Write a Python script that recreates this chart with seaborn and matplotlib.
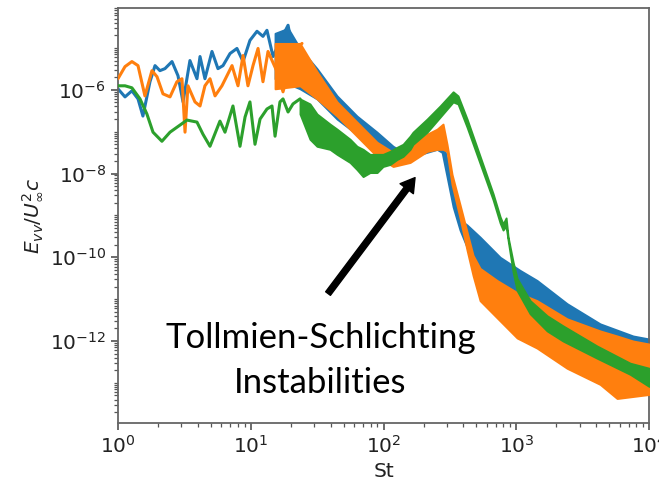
import numpy as np
import pandas as pd
import matplotlib
matplotlib.use("Agg")
import matplotlib.pyplot as plt
import seaborn as sns
from matplotlib.ticker import LogLocator, NullFormatter

# ---------------------------------------------------------------------------
# Spectra of the wall-normal velocity, stored as log10 values.
# "line" arrays: the low-frequency part, drawn as a single trace.
# "band" arrays: the broadband part, given as lower / upper envelopes.
# ---------------------------------------------------------------------------
runs = ["run A", "run B", "run C"]
colors = {"run A": "#1f77b4", "run B": "#ff7f0e", "run C": "#2ca02c"}

# run A (blue)
a_line_logst = [0.0, 0.053, 0.105, 0.151, 0.188, 0.241, 0.279, 0.316, 0.354, 0.407,
                0.452, 0.490, 0.542, 0.595, 0.618, 0.655, 0.708, 0.753, 0.791, 0.844,
                0.896, 0.942, 0.994, 1.047, 1.092, 1.122, 1.168, 1.220, 1.281, 1.318, 1.371]
a_line_loge = [-5.976, -6.169, -6.024, -6.217, -6.627, -5.807, -5.422, -5.542, -5.494, -5.325,
               -5.663, -6.289, -5.301, -5.735, -5.205, -5.735, -5.084, -5.494, -5.422, -5.133,
               -5.012, -5.325, -4.819, -4.602, -4.723, -4.578, -5.205, -4.843, -4.458, -5.084, -5.012]
a_band_logst = [1.183, 1.281, 1.371, 1.499, 1.650, 1.800, 1.951, 2.072, 2.177,
                2.275, 2.403, 2.441, 2.478, 2.524, 2.576, 2.629, 2.727, 2.878, 3.028,
                3.156, 3.382, 3.631, 3.879, 4.0]
a_band_hi = [-4.651, -4.530, -5.012, -5.494, -6.145, -6.627, -7.012, -7.349, -7.542,
             -7.422, -7.301, -7.181, -7.663, -8.506, -9.108, -9.229, -9.518, -10.000, -10.313,
             -10.554, -11.108, -11.590, -11.880, -11.952]
a_band_lo = [-5.735, -5.855, -5.976, -6.217, -6.699, -7.060, -7.422, -7.590, -7.663,
             -7.542, -7.422, -7.494, -8.072, -8.795, -9.349, -9.759, -10.386, -10.675, -10.916,
             -11.157, -11.639, -11.952, -12.120, -12.169]

# run B (orange)
b_line_logst = [0.0, 0.053, 0.105, 0.151, 0.203, 0.256, 0.294, 0.339, 0.392, 0.444,
                0.482, 0.505, 0.527, 0.580, 0.618, 0.655, 0.693, 0.731, 0.783, 0.821,
                0.859, 0.904, 0.942, 0.979, 1.017, 1.055, 1.092, 1.130, 1.198, 1.243,
                1.296, 1.348, 1.386]
b_line_loge = [-5.735, -5.446, -5.325, -5.422, -6.145, -5.542, -5.687, -6.096, -6.169, -5.807,
               -5.735, -7.012, -5.904, -6.289, -6.386, -5.904, -5.735, -6.145, -5.904, -5.663,
               -5.422, -5.904, -5.181, -5.904, -5.422, -5.012, -5.807, -5.084, -5.566, -6.048,
               -5.422, -5.012, -4.892]
b_band_logst = [1.183, 1.371, 1.499, 1.650, 1.800, 1.951, 2.072, 2.200, 2.328,
                2.403, 2.448, 2.478, 2.516, 2.576, 2.629, 2.674, 2.727, 2.855, 3.006,
                3.156, 3.382, 3.631, 3.759, 3.879, 4.0]
b_band_hi = [-4.892, -4.892, -5.566, -6.289, -6.771, -7.253, -7.494, -7.373, -7.060,
             -6.940, -6.819, -7.301, -8.024, -8.747, -9.398, -9.952, -10.265, -10.554, -10.843,
             -11.036, -11.470, -11.759, -11.880, -12.000, -12.072]
b_band_lo = [-5.976, -5.904, -6.217, -6.627, -7.108, -7.590, -7.831, -7.735, -7.470,
             -7.422, -7.422, -7.470, -8.265, -9.060, -9.831, -10.434, -11.036, -11.446, -11.928,
             -12.169, -12.651, -13.036, -13.373, -13.325, -13.277]

# run C (green)
c_line_logst = [0.0, 0.053, 0.105, 0.166, 0.218, 0.264, 0.331, 0.392, 0.520, 0.595,
                0.640, 0.693, 0.768, 0.806, 0.866, 0.919, 0.957, 0.994, 1.032, 1.070,
                1.122, 1.160, 1.183, 1.220, 1.243, 1.281, 1.318, 1.371]
c_line_loge = [-5.904, -5.904, -5.952, -6.217, -6.578, -7.012, -7.229, -7.012, -6.723, -6.771,
               -7.060, -7.349, -6.747, -7.012, -6.386, -7.349, -6.651, -6.289, -7.301, -6.699,
               -6.458, -6.386, -7.108, -6.289, -6.217, -6.530, -6.337, -6.217]
c_band_logst = [1.371, 1.446, 1.499, 1.597, 1.650, 1.748, 1.800, 1.846, 1.898, 1.951,
                1.996, 2.049, 2.102, 2.147, 2.200, 2.222, 2.328, 2.426, 2.524, 2.561,
                2.629, 2.727, 2.825, 2.878, 2.900, 2.923, 2.938, 2.976, 3.006, 3.104,
                3.232, 3.352, 3.608, 3.857, 4.0]
c_band_hi = [-6.217, -6.337, -6.578, -6.819, -6.940, -7.181, -7.349, -7.422, -7.542, -7.542,
             -7.542, -7.470, -7.373, -7.301, -7.108, -7.012, -6.699, -6.386, -6.048, -6.145,
             -6.699, -7.590, -8.482, -9.036, -9.205, -9.060, -9.518, -10.120, -10.506, -11.036,
             -11.398, -11.639, -12.120, -12.530, -12.651]
c_band_lo = [-6.578, -7.181, -7.349, -7.422, -7.542, -7.735, -7.904, -8.072, -7.976, -7.976,
             -7.831, -7.783, -7.663, -7.590, -7.422, -7.301, -7.012, -6.651, -6.289, -6.337,
             -6.892, -7.759, -8.627, -9.181, -9.349, -9.253, -9.590, -10.361, -10.795, -11.349,
             -11.759, -12.000, -12.410, -12.795, -13.084]

line_data = {"run A": (a_line_logst, a_line_loge),
             "run B": (b_line_logst, b_line_loge),
             "run C": (c_line_logst, c_line_loge)}
band_data = {"run A": (a_band_logst, a_band_lo, a_band_hi),
             "run B": (b_band_logst, b_band_lo, b_band_hi),
             "run C": (c_band_logst, c_band_lo, c_band_hi)}

lines_df = pd.concat(
    [pd.DataFrame({"St": 10.0 ** np.asarray(s), "E": 10.0 ** np.asarray(e), "run": r})
     for r, (s, e) in line_data.items()],
    ignore_index=True)

# ---------------------------------------------------------------------------
sns.set_style("ticks")
plt.rcParams["font.family"] = ["DejaVu Sans"]
plt.rcParams["mathtext.fontset"] = "dejavusans"

fig = plt.figure(figsize=(6.59, 4.82), dpi=100)
ax = fig.add_axes([0.179, 0.1224, 0.806, 0.861])

for z, r in enumerate(runs, start=2):
    c = colors[r]
    sub = lines_df[lines_df["run"] == r]
    sns.lineplot(data=sub, x="St", y="E", color=c, lw=2.2, sort=False,
                 estimator=None, ax=ax, zorder=z, legend=False)
    s, lo, hi = band_data[r]
    ax.fill_between(10.0 ** np.asarray(s), 10.0 ** np.asarray(lo), 10.0 ** np.asarray(hi),
                    color=c, lw=1.4, edgecolor=c, zorder=z)

ax.set_xscale("log")
ax.set_yscale("log")
ax.set_xlim(1, 1e4)
ax.set_ylim(1.1e-14, 9e-5)

ax.xaxis.set_major_locator(LogLocator(base=10.0))
ax.xaxis.set_minor_locator(LogLocator(base=10.0, subs=np.arange(2, 10), numticks=100))
ax.xaxis.set_minor_formatter(NullFormatter())
ax.yaxis.set_major_locator(LogLocator(base=100.0))
ax.yaxis.set_minor_locator(LogLocator(base=10.0, subs=np.arange(1, 10), numticks=100))
ax.yaxis.set_minor_formatter(NullFormatter())

for sp in ax.spines.values():
    sp.set_visible(True)
    sp.set_color("#666666")
    sp.set_linewidth(1.3)

ax.tick_params(which="major", direction="out", length=5, width=1.1, colors="#444444",
               labelsize=14.5, labelcolor="#222222")
ax.tick_params(which="minor", direction="out", length=3, width=0.9, colors="#555555")

ax.set_xlabel("St", fontsize=14.5, color="#222222")
ax.set_ylabel(r"$E_{vv}/U_\infty^2c$", fontsize=14.5, color="#222222")

# Annotation pointing at the Tollmien-Schlichting hump
ax.annotate("", xy=(172.7, 8.0e-9), xytext=(38.2, 1.36e-11),
            arrowprops=dict(facecolor="black", edgecolor="black", width=4.3,
                            headwidth=12, headlength=10, shrink=0.0),
            zorder=6)
ax.text(0.381, 0.181, "Tollmien-Schlichting", transform=ax.transAxes, color="black",
        ha="center", va="baseline", fontsize=25, family=["Lato", "DejaVu Sans"], zorder=6)
ax.text(0.381, 0.072, "Instabilities", transform=ax.transAxes, color="black",
        ha="center", va="baseline", fontsize=25, family=["Lato", "DejaVu Sans"], zorder=6)

fig.savefig("out.png", dpi=100)
